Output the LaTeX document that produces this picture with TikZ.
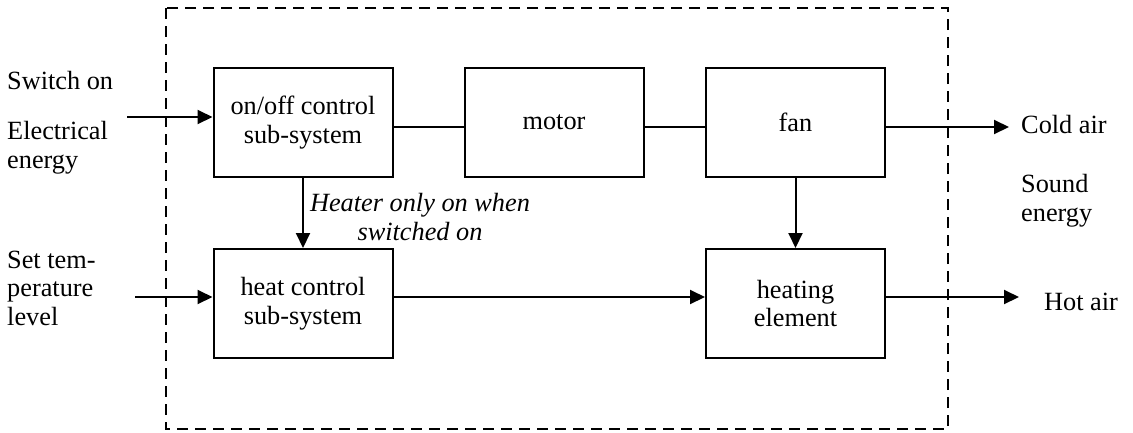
\documentclass[tikz,border=0pt]{standalone}
\usepackage{fontspec}
\setmainfont{Liberation Serif}
\usetikzlibrary{arrows.meta}
\begin{document}
\begin{tikzpicture}[x=1pt,y=-1pt,
  every node/.style={font=\fontsize{26.3}{28.5}\selectfont},
  blk/.style={draw, line width=2pt, minimum width=179pt, minimum height=109pt, align=center, inner sep=0pt},
  lbl/.style={inner sep=0pt, align=left},
  link/.style={line width=2pt},
  arr/.style={line width=2pt, -{Triangle[length=15pt,width=14pt]}},
  boundary/.style={line width=1.8pt, dash pattern=on 11pt off 7pt}]
\useasboundingbox (0,0) rectangle (1133,432);

% system boundary
\draw[boundary] (166,8) rectangle (948,429);

% sub-system blocks
\node[blk] (onoff) at (303,122.5) {on/off control\\sub-system};
\node[blk] (motor) at (554,122.5) {motor};
\node[blk] (fan) at (795.5,122.5) {fan};
\node[blk] (heatc) at (303,303.5) {heat control\\sub-system};
\node[blk] (heatel) at (795.5,303.5) {heating\\element};

% inputs and outputs (multi-line labels are placed by their last baseline)
\node[lbl, anchor=base west] (swon) at (7,89) {Switch on};
\node[lbl, anchor=base west] (elec) at (7,168) {Electrical\\energy};
\node[lbl, anchor=base west] (settemp) at (7,325) {Set tem-\\perature\\level};
\node[lbl, anchor=base west] (cold) at (1021,133) {Cold air};
\node[lbl, anchor=base west] (sound) at (1021,221) {Sound\\energy};
\node[lbl, anchor=base west] (hot) at (1044,310) {Hot air};
\node[lbl, align=center, anchor=base, font=\fontsize{26.3}{29}\selectfont\itshape] (note) at (420,240) {Heater only on when\\switched on};

\coordinate (swin) at (127,117);
\coordinate (tin) at (135,297);
\coordinate (coldout) at (1009,127);
\coordinate (hotout) at (1019,297);

% connectors
\draw[arr] (swin) -- (onoff.west |- swin);
\draw[arr] (tin) -- (heatc.west |- tin);
\draw[link] ([yshift=-4.5pt]onoff.east) -- ([yshift=-4.5pt]motor.west);
\draw[link] ([yshift=-4.5pt]motor.east) -- ([yshift=-4.5pt]fan.west);
\draw[arr] ([yshift=-4.5pt]fan.east) -- (coldout);
\draw[arr] (onoff.south) -- (heatc.north);
\draw[arr] (fan.south) -- (heatel.north);
\draw[arr] ([yshift=6.5pt]heatc.east) -- ([yshift=6.5pt]heatel.west);
\draw[arr] ([yshift=6.5pt]heatel.east) -- (hotout);
\end{tikzpicture}
\end{document}
